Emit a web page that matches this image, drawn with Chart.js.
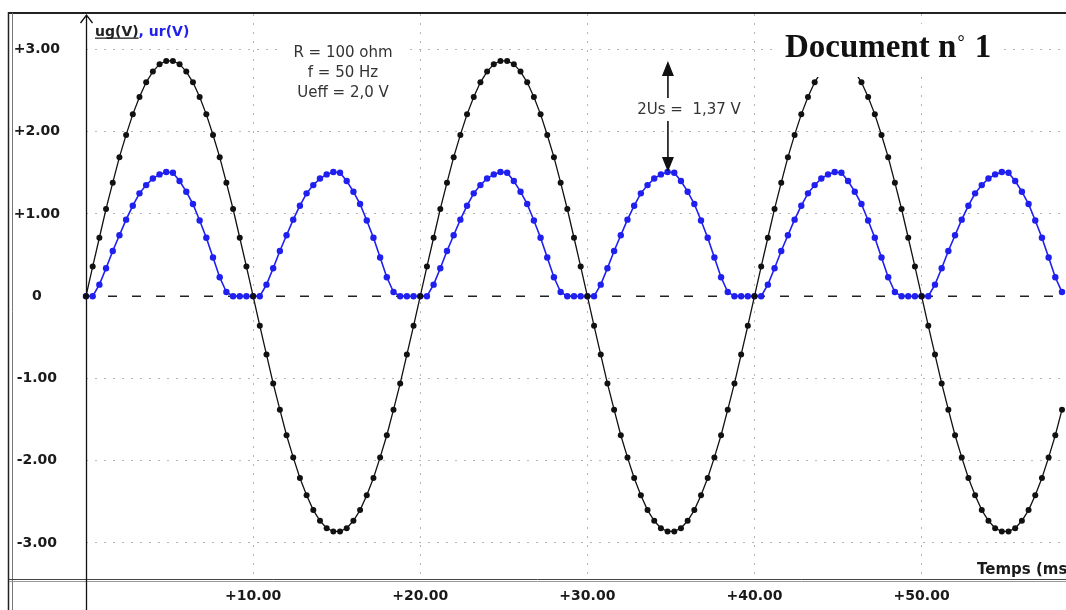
<!DOCTYPE html>
<html>
<head>
<meta charset="utf-8">
<script src="https://cdn.jsdelivr.net/npm/chart.js@4.4.1/dist/chart.umd.min.js"></script>
<style>
  html, body { margin: 0; padding: 0; background: #fff; }
  canvas { display: block; }
</style>
</head>
<body>
<canvas id="c" width="1066" height="610"></canvas>
<script>
// time in ms, one sample every 0.4 ms
const timeMs = [
  0, 0.4, 0.8, 1.2, 1.6, 2, 2.4, 2.8, 3.2, 3.6, 4, 4.4, 4.8, 5.2, 5.6, 6, 6.4, 6.8, 7.2, 7.6, 8, 8.4, 8.8, 9.2, 9.6,
  10, 10.4, 10.8, 11.2, 11.6, 12, 12.4, 12.8, 13.2, 13.6, 14, 14.4, 14.8, 15.2, 15.6, 16, 16.4, 16.8, 17.2, 17.6, 18, 18.4, 18.8, 19.2, 19.6,
  20, 20.4, 20.8, 21.2, 21.6, 22, 22.4, 22.8, 23.2, 23.6, 24, 24.4, 24.8, 25.2, 25.6, 26, 26.4, 26.8, 27.2, 27.6, 28, 28.4, 28.8, 29.2, 29.6,
  30, 30.4, 30.8, 31.2, 31.6, 32, 32.4, 32.8, 33.2, 33.6, 34, 34.4, 34.8, 35.2, 35.6, 36, 36.4, 36.8, 37.2, 37.6, 38, 38.4, 38.8, 39.2, 39.6,
  40, 40.4, 40.8, 41.2, 41.6, 42, 42.4, 42.8, 43.2, 43.6, 44, 44.4, 44.8, 45.2, 45.6, 46, 46.4, 46.8, 47.2, 47.6, 48, 48.4, 48.8, 49.2, 49.6,
  50, 50.4, 50.8, 51.2, 51.6, 52, 52.4, 52.8, 53.2, 53.6, 54, 54.4, 54.8, 55.2, 55.6, 56, 56.4, 56.8, 57.2, 57.6, 58, 58.4
];

// ug(V) - generator voltage (black)
const ug = [
  0, 0.36, 0.71, 1.06, 1.38, 1.69, 1.96, 2.21, 2.42, 2.60, 2.73, 2.82, 2.86, 2.86, 2.82, 2.73, 2.60, 2.42, 2.21, 1.96, 1.69, 1.38, 1.06, 0.71, 0.36,
  0, -0.36, -0.71, -1.06, -1.38, -1.69, -1.96, -2.21, -2.42, -2.60, -2.73, -2.82, -2.86, -2.86, -2.82, -2.73, -2.60, -2.42, -2.21, -1.96, -1.69, -1.38, -1.06, -0.71, -0.36,
  0, 0.36, 0.71, 1.06, 1.38, 1.69, 1.96, 2.21, 2.42, 2.60, 2.73, 2.82, 2.86, 2.86, 2.82, 2.73, 2.60, 2.42, 2.21, 1.96, 1.69, 1.38, 1.06, 0.71, 0.36,
  0, -0.36, -0.71, -1.06, -1.38, -1.69, -1.96, -2.21, -2.42, -2.60, -2.73, -2.82, -2.86, -2.86, -2.82, -2.73, -2.60, -2.42, -2.21, -1.96, -1.69, -1.38, -1.06, -0.71, -0.36,
  0, 0.36, 0.71, 1.06, 1.38, 1.69, 1.96, 2.21, 2.42, 2.60, 2.73, 2.82, 2.86, 2.86, 2.82, 2.73, 2.60, 2.42, 2.21, 1.96, 1.69, 1.38, 1.06, 0.71, 0.36,
  0, -0.36, -0.71, -1.06, -1.38, -1.69, -1.96, -2.21, -2.42, -2.60, -2.73, -2.82, -2.86, -2.86, -2.82, -2.73, -2.60, -2.42, -2.21, -1.96, -1.69, -1.38
];

// ur(V) - resistor voltage (blue)
const ur = [
  0, 0, 0.14, 0.34, 0.55, 0.74, 0.93, 1.10, 1.25, 1.35, 1.43, 1.48, 1.51, 1.50, 1.40, 1.27, 1.12, 0.92, 0.71, 0.47, 0.23, 0.05, 0, 0, 0,
  0, 0, 0.14, 0.34, 0.55, 0.74, 0.93, 1.10, 1.25, 1.35, 1.43, 1.48, 1.51, 1.50, 1.40, 1.27, 1.12, 0.92, 0.71, 0.47, 0.23, 0.05, 0, 0, 0,
  0, 0, 0.14, 0.34, 0.55, 0.74, 0.93, 1.10, 1.25, 1.35, 1.43, 1.48, 1.51, 1.50, 1.40, 1.27, 1.12, 0.92, 0.71, 0.47, 0.23, 0.05, 0, 0, 0,
  0, 0, 0.14, 0.34, 0.55, 0.74, 0.93, 1.10, 1.25, 1.35, 1.43, 1.48, 1.51, 1.50, 1.40, 1.27, 1.12, 0.92, 0.71, 0.47, 0.23, 0.05, 0, 0, 0,
  0, 0, 0.14, 0.34, 0.55, 0.74, 0.93, 1.10, 1.25, 1.35, 1.43, 1.48, 1.51, 1.50, 1.40, 1.27, 1.12, 0.92, 0.71, 0.47, 0.23, 0.05, 0, 0, 0,
  0, 0, 0.14, 0.34, 0.55, 0.74, 0.93, 1.10, 1.25, 1.35, 1.43, 1.48, 1.51, 1.50, 1.40, 1.27, 1.12, 0.92, 0.71, 0.47, 0.23, 0.05
];

const xTicks = [10, 20, 30, 40, 50];
const yTicks = [-3, -2, -1, 0, 1, 2, 3];
const xMin = 0, xMax = 58.4;
const yMin = -3.45, yMax = 3.43;

const notes = ['R = 100 ohm', 'f = 50 Hz', 'Ueff = 2,0 V'];
const peakUg = 2.86, peakUr = 1.51, peakTime = 35; // where the 2Us arrows sit

const ugPoints = timeMs.map((t, i) => ({ x: t, y: ug[i] }));
const urPoints = timeMs.map((t, i) => ({ x: t, y: ur[i] }));

const BLUE = '#1f1ff0';
const tickFont = { family: 'DejaVu Sans', size: 14, weight: 'bold' };

function arrowHead(ctx, x, tipY, dir) {
  // dir = -1 points up, +1 points down
  ctx.beginPath();
  ctx.moveTo(x, tipY);
  ctx.lineTo(x - 6, tipY - dir * 15);
  ctx.lineTo(x + 6, tipY - dir * 15);
  ctx.closePath();
  ctx.fill();
}

const decor = {
  id: 'decor',
  afterDatasetsDraw(chart) {
    const { ctx } = chart;
    const xs = chart.scales.x, ys = chart.scales.y;
    ctx.save();

    // parameters box
    ctx.fillStyle = '#fff';
    ctx.fillRect(283, 40, 122, 62);
    ctx.fillStyle = '#333';
    ctx.font = '15px "DejaVu Sans"';
    ctx.textAlign = 'center';
    ctx.textBaseline = 'middle';
    notes.forEach((n, i) => ctx.fillText(n, 343, 53 + i * 20));

    // Document n° 1
    ctx.fillStyle = '#fff';
    ctx.fillRect(778, 24, 226, 53);
    ctx.fillStyle = '#111';
    ctx.textAlign = 'left';
    ctx.textBaseline = 'alphabetic';
    ctx.font = 'bold 33px "Liberation Serif"';
    ctx.fillText('Document n', 785, 57);
    let dx = 785 + ctx.measureText('Document n').width;
    ctx.font = 'bold 18px "Liberation Serif"';
    ctx.fillText('°', dx + 1, 48);
    dx += 1 + ctx.measureText('°').width;
    ctx.font = 'bold 33px "Liberation Serif"';
    ctx.fillText(' 1', dx + 2, 57);

    // 2Us arrows
    const ax = xs.getPixelForValue(peakTime) - 3;
    const upTip = ys.getPixelForValue(peakUg);
    const downTip = ys.getPixelForValue(peakUr);
    ctx.strokeStyle = '#111';
    ctx.fillStyle = '#111';
    ctx.lineWidth = 1.6;
    ctx.beginPath();
    ctx.moveTo(ax, upTip + 10); ctx.lineTo(ax, 98);
    ctx.moveTo(ax, 121); ctx.lineTo(ax, downTip - 10);
    ctx.stroke();
    arrowHead(ctx, ax, upTip, -1);
    arrowHead(ctx, ax, downTip, 1);
    ctx.fillStyle = '#fff';
    ctx.fillRect(630, 101, 118, 18);
    ctx.fillStyle = '#333';
    ctx.font = '15px "DejaVu Sans"';
    ctx.textAlign = 'center';
    ctx.textBaseline = 'middle';
    ctx.fillText('2Us =  1,37 V', 689, 110);

    // series label
    ctx.font = 'bold 14px "DejaVu Sans"';
    ctx.textAlign = 'left';
    ctx.textBaseline = 'alphabetic';
    ctx.fillStyle = '#222';
    ctx.fillText('ug(V)', 95, 36);
    const w = ctx.measureText('ug(V)').width;
    ctx.fillRect(95, 37.5, w, 1.3);
    ctx.fillStyle = BLUE;
    ctx.fillText(', ur(V)', 95 + w, 36);

    // axis title
    ctx.fillStyle = '#1a1a1a';
    ctx.font = 'bold 15px "DejaVu Sans"';
    ctx.fillText('Temps (ms)', 977, 574);
    ctx.restore();
  },
  afterDraw(chart) {
    const { ctx } = chart;
    const xs = chart.scales.x;
    const x0 = Math.round(xs.getPixelForValue(0)) + 0.5;
    ctx.save();
    // outer frame
    ctx.strokeStyle = '#222';
    ctx.lineWidth = 2;
    ctx.beginPath();
    ctx.moveTo(8, 13); ctx.lineTo(1066, 13);
    ctx.stroke();
    ctx.lineWidth = 1.5;
    ctx.beginPath();
    ctx.moveTo(8.5, 12); ctx.lineTo(8.5, 610);
    ctx.stroke();
    ctx.strokeStyle = '#777';
    ctx.lineWidth = 1;
    ctx.beginPath();
    ctx.moveTo(12.5, 13); ctx.lineTo(12.5, 610);
    ctx.stroke();
    ctx.strokeStyle = '#444';
    ctx.beginPath();
    ctx.moveTo(9, 579.5); ctx.lineTo(1066, 579.5);
    ctx.stroke();
    ctx.strokeStyle = '#999';
    ctx.beginPath();
    ctx.moveTo(9, 581.5); ctx.lineTo(1066, 581.5);
    ctx.stroke();

    // vertical axis with open arrow
    ctx.strokeStyle = '#111';
    ctx.lineWidth = 1.3;
    ctx.beginPath();
    ctx.moveTo(x0, 15); ctx.lineTo(x0, 610);
    ctx.moveTo(x0 - 6, 23); ctx.lineTo(x0, 15); ctx.lineTo(x0 + 6, 23);
    ctx.stroke();
    ctx.restore();
  }
};

new Chart(document.getElementById('c'), {
  type: 'line',
  data: {
    datasets: [
      {
        label: 'ug(V)',
        data: ugPoints,
        borderColor: '#111',
        backgroundColor: '#111',
        borderWidth: 1.3,
        pointRadius: 3,
        pointBorderWidth: 0,
        tension: 0,
        clip: 4,
      },
      {
        label: 'ur(V)',
        data: urPoints,
        borderColor: BLUE,
        backgroundColor: BLUE,
        borderWidth: 1.6,
        pointRadius: 3.2,
        pointBorderWidth: 0,
        tension: 0,
        clip: 4,
      },
      {
        label: 'zero',
        data: [{ x: xMin, y: 0 }, { x: xMax, y: 0 }],
        borderColor: '#222',
        borderWidth: 1.4,
        borderDash: [9, 15],
        borderDashOffset: 2,
        pointRadius: 0,
      },
    ],
  },
  options: {
    responsive: false,
    animation: false,
    layout: { padding: { top: 14, left: 0, right: 0, bottom: 0 } },
    plugins: {
      legend: { display: false },
      tooltip: { enabled: false },
    },
    scales: {
      x: {
        type: 'linear',
        min: xMin,
        max: xMax,
        afterFit: (s) => { s.height = 30; s.paddingLeft = 0; s.paddingRight = 0; },
        afterBuildTicks: (s) => { s.ticks = xTicks.map((v) => ({ value: v })); },
        grid: { color: '#b5b5b5', lineWidth: 1, drawTicks: false },
        border: { display: false, dash: [2, 7] },
        ticks: {
          padding: 8,
          font: tickFont,
          color: '#1a1a1a',
          maxRotation: 0,
          autoSkip: false,
          callback: (v) => '+' + v.toFixed(2),
        },
      },
      y: {
        min: yMin,
        max: yMax,
        afterFit: (s) => { s.width = 86; s.paddingTop = 0; s.paddingBottom = 0; },
        afterBuildTicks: (s) => { s.ticks = yTicks.map((v) => ({ value: v })); },
        grid: {
          color: (c) => (c.tick && c.tick.value === 0 ? 'rgba(0,0,0,0)' : '#b5b5b5'),
          lineWidth: 1,
          drawTicks: false,
        },
        border: { display: false, dash: [2, 7] },
        ticks: {
          padding: 26,
          crossAlign: 'center',
          font: tickFont,
          color: '#1a1a1a',
          autoSkip: false,
          callback: (v) => (v === 0 ? '0' : (v > 0 ? '+' : '') + v.toFixed(2)),
        },
      },
    },
  },
  plugins: [decor],
});
</script>
</body>
</html>
